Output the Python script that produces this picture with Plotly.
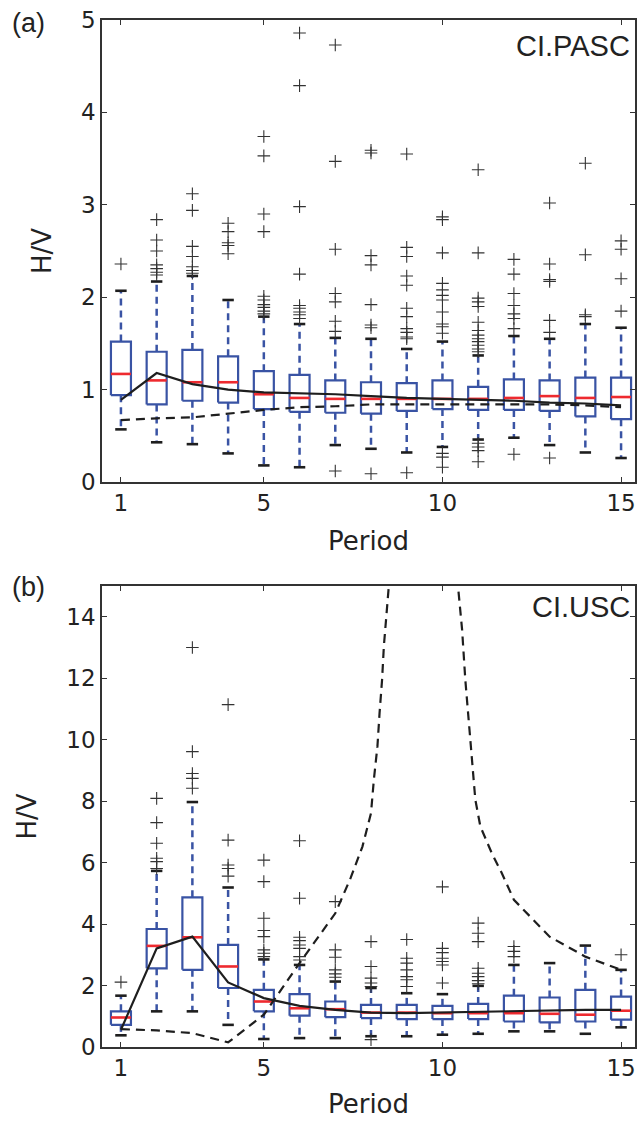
import plotly.graph_objects as go

periods = list(range(1, 16))

# --- panel (a) CI.PASC ---
a_q1 = [0.94, 0.84, 0.88, 0.86, 0.79, 0.76, 0.75, 0.74, 0.77, 0.79, 0.78, 0.78, 0.77, 0.71, 0.68]
a_med = [1.17, 1.10, 1.08, 1.08, 0.95, 0.91, 0.90, 0.90, 0.90, 0.90, 0.90, 0.91, 0.93, 0.91, 0.92]
a_q3 = [1.52, 1.41, 1.43, 1.36, 1.20, 1.16, 1.10, 1.08, 1.07, 1.10, 1.03, 1.11, 1.10, 1.13, 1.13]
a_lo = [0.57, 0.43, 0.41, 0.31, 0.18, 0.16, 0.40, 0.36, 0.32, 0.38, 0.46, 0.48, 0.40, 0.32, 0.26]
a_hi = [2.07, 2.17, 2.23, 1.97, 1.79, 1.71, 1.56, 1.55, 1.44, 1.52, 1.37, 1.58, 1.55, 1.71, 1.67]
a_out = [
    [2.36],
    [2.84, 2.62, 2.50, 2.35, 2.31, 2.27, 2.24],
    [3.12, 2.94, 2.55, 2.44, 2.33, 2.29, 2.26],
    [2.80, 2.71, 2.59, 2.56, 2.47],
    [3.74, 3.53, 2.90, 2.71, 2.01, 1.97, 1.92, 1.89, 1.85, 1.82],
    [4.86, 4.29, 2.98, 2.25, 1.91, 1.88, 1.84, 1.81, 1.77],
    [4.73, 3.47, 2.52, 2.04, 1.95, 1.74, 1.63, 0.12],
    [3.59, 3.56, 2.45, 2.35, 1.92, 1.70, 1.67, 0.09],
    [3.55, 2.54, 2.44, 2.23, 2.13, 1.88, 1.79, 1.66, 1.62, 1.57, 1.55, 0.10],
    [2.87, 2.84, 2.48, 2.15, 2.08, 2.02, 1.97, 1.84, 1.71, 1.68, 1.61, 0.31, 0.27, 0.16],
    [3.38, 2.48, 1.99, 1.95, 1.90, 1.73, 1.64, 1.59, 1.55, 1.52, 1.48, 1.44, 1.41, 0.42, 0.38, 0.34, 0.22],
    [2.41, 2.25, 2.04, 1.91, 1.82, 1.77, 1.66, 0.30],
    [3.02, 2.36, 2.19, 2.17, 1.75, 1.62, 0.26],
    [3.45, 2.46, 1.81, 1.79],
    [2.61, 2.52, 2.20, 1.85],
]
a_mean = [0.89, 1.18, 1.06, 1.00, 0.97, 0.96, 0.95, 0.93, 0.91, 0.90, 0.89, 0.88, 0.86, 0.85, 0.83]
a_ref_x = periods
a_ref = [0.67, 0.69, 0.70, 0.74, 0.78, 0.81, 0.82, 0.84, 0.84, 0.84, 0.84, 0.84, 0.84, 0.83, 0.81]

# --- panel (b) CI.USC ---
b_q1 = [0.72, 2.56, 2.51, 1.92, 1.16, 1.02, 0.97, 0.94, 0.91, 0.91, 0.91, 0.83, 0.80, 0.83, 0.89]
b_med = [0.96, 3.29, 3.57, 2.62, 1.48, 1.26, 1.23, 1.12, 1.12, 1.10, 1.10, 1.10, 1.08, 1.05, 1.18]
b_q3 = [1.16, 3.84, 4.87, 3.32, 1.86, 1.72, 1.48, 1.37, 1.37, 1.34, 1.40, 1.67, 1.61, 1.86, 1.64]
b_lo = [0.38, 1.16, 1.16, 0.72, 0.26, 0.29, 0.29, 0.35, 0.35, 0.40, 0.43, 0.51, 0.51, 0.43, 0.64]
b_hi = [1.67, 5.73, 7.97, 5.19, 2.85, 2.67, 2.13, 1.92, 1.75, 1.72, 1.99, 2.67, 2.73, 3.30, 2.51]
b_out = [
    [2.11],
    [8.09, 7.30, 6.63, 6.14, 6.03, 5.81],
    [13.0, 9.61, 8.90, 8.74, 8.42],
    [11.14, 6.73, 5.92, 5.81, 5.56],
    [6.08, 5.38, 4.19, 3.79, 3.59, 3.16, 3.05, 2.94],
    [6.71, 4.84, 3.57, 3.46, 3.32, 3.21, 2.94, 2.83],
    [4.73, 3.16, 2.92, 2.51, 2.38, 2.27],
    [3.43, 2.62, 2.24, 2.08, 1.97, 0.24],
    [3.50, 2.89, 2.73, 2.51, 2.29, 2.19, 1.97],
    [5.21, 3.21, 3.07, 2.89, 2.78, 2.67, 2.08],
    [4.03, 3.70, 3.43, 2.56, 2.40, 2.29, 2.16, 2.06],
    [3.27, 3.11, 2.94],
    [],
    [],
    [3.00],
]
b_mean = [0.56, 3.21, 3.59, 2.10, 1.59, 1.34, 1.21, 1.12, 1.10, 1.12, 1.16, 1.18, 1.19, 1.21, 1.21]
b_ref_x = [1, 2, 3, 4, 5, 6, 7, 7.43, 7.76, 8.0, 8.08, 8.18, 8.24, 8.31, 8.36, 8.43, 8.52, None,
           10.41, 10.55, 10.64, 10.73, 10.82, 10.92, 11.06, 11.38, 11.66, 12, 13, 14, 15]
b_ref = [0.58, 0.54, 0.45, 0.15, 1.05, 2.73, 4.35, 5.50, 6.52, 7.61, 8.70, 9.78, 10.87, 11.95, 13.04, 14.13, 15.3, None,
         15.3, 13.58, 11.95, 10.65, 9.46, 8.05, 7.18, 6.31, 5.66, 4.79, 3.59, 2.94, 2.51]

BLUE = "#3953a4"
RED = "#ee2a2f"
INK = "#1e1e1e"
BOXW = 0.28  # half width of a box
CAPW = 0.16  # half width of the whisker caps


def panel_traces(q1, med, q3, lo, hi, out, mean, ref_x, ref, xa, ya):
    bx, by, wx, wy, cx, cy, mx, my, ox, oy = [], [], [], [], [], [], [], [], [], []
    for p, a, m, b, l, h, o in zip(periods, q1, med, q3, lo, hi, out):
        bx += [p - BOXW, p + BOXW, p + BOXW, p - BOXW, p - BOXW, None]
        by += [a, a, b, b, a, None]
        wx += [p, p, None, p, p, None]
        wy += [b, h, None, a, l, None]
        cx += [p - CAPW, p + CAPW, None, p - CAPW, p + CAPW, None]
        cy += [h, h, None, l, l, None]
        mx += [p - BOXW, p + BOXW, None]
        my += [m, m, None]
        ox += [p] * len(o)
        oy += o
    common = dict(xaxis=xa, yaxis=ya, showlegend=False, hoverinfo="skip")
    return [
        go.Scatter(x=wx, y=wy, mode="lines", line=dict(color=BLUE, width=2.5, dash="7px,5px"), **common),
        go.Scatter(x=bx, y=by, mode="lines", line=dict(color=BLUE, width=2.2), **common),
        go.Scatter(x=cx, y=cy, mode="lines", line=dict(color=INK, width=2.6), **common),
        go.Scatter(x=mx, y=my, mode="lines", line=dict(color=RED, width=2.6), **common),
        go.Scatter(x=ox, y=oy, mode="markers",
                   marker=dict(symbol="cross-thin", size=9, line=dict(color="#333", width=1.1)), **common),
        go.Scatter(x=ref_x, y=ref, mode="lines", line=dict(color=INK, width=2.2, dash="9px,6px"), **common),
        go.Scatter(x=periods, y=mean, mode="lines", line=dict(color=INK, width=2.2), **common),
    ]


fig = go.Figure()
for t in panel_traces(a_q1, a_med, a_q3, a_lo, a_hi, a_out, a_mean, a_ref_x, a_ref, "x", "y"):
    fig.add_trace(t)
for t in panel_traces(b_q1, b_med, b_q3, b_lo, b_hi, b_out, b_mean, b_ref_x, b_ref, "x2", "y2"):
    fig.add_trace(t)

tick_font = dict(family="DejaVu Sans", size=23, color="#222")
title_font = dict(family="DejaVu Sans", size=26, color="#222")
ax = dict(showline=True, mirror="ticks", linecolor="#333", linewidth=1.5, ticks="inside", ticklen=5,
          tickcolor="#333", showgrid=False, zeroline=False, tickfont=tick_font)

fig.update_layout(
    width=638, height=1121, paper_bgcolor="white", plot_bgcolor="white",
    margin=dict(l=102, r=1, t=20, b=74),
    xaxis=dict(ax, domain=[0, 1], anchor="y", range=[0.47, 15.39], tickvals=[1, 5, 10, 15],
               title=dict(text="Period", font=title_font, standoff=16)),
    yaxis=dict(ax, domain=[0.5501, 1], anchor="x", range=[0, 5], tickvals=[0, 1, 2, 3, 4, 5],
               title=dict(text="H/V", font=title_font, standoff=22)),
    xaxis2=dict(ax, domain=[0, 1], anchor="y2", range=[0.47, 15.39], tickvals=[1, 5, 10, 15],
                title=dict(text="Period", font=title_font, standoff=14)),
    yaxis2=dict(ax, domain=[0, 0.4489], anchor="x2", range=[0, 15], tickvals=[0, 2, 4, 6, 8, 10, 12, 14],
                title=dict(text="H/V", font=title_font, standoff=22)),
)

lab = dict(family="Liberation Sans", size=27, color="#222")
fig.add_annotation(text="(a)", x=-102 / 535, y=1.0, xref="paper", yref="paper", xanchor="left", yanchor="top",
                   showarrow=False, font=lab, yshift=14, xshift=10)
fig.add_annotation(text="(b)", x=-102 / 535, y=0.4489, xref="paper", yref="paper", xanchor="left", yanchor="top",
                   showarrow=False, font=lab, yshift=16, xshift=10)
fig.add_annotation(text="CI.PASC", x=15.3, y=4.72, xref="x", yref="y", xanchor="right", yanchor="middle",
                   showarrow=False, font=dict(family="Liberation Sans", size=29, color="#222"))
fig.add_annotation(text="CI.USC", x=15.3, y=14.3, xref="x2", yref="y2", xanchor="right", yanchor="middle",
                   showarrow=False, font=dict(family="Liberation Sans", size=29, color="#222"))

# drop the default page margin so the figure sits at the window's top-left corner
fig.write_html("out.html", config={"displayModeBar": False},
               post_script="document.body.style.margin='0';document.body.style.overflow='hidden';")
